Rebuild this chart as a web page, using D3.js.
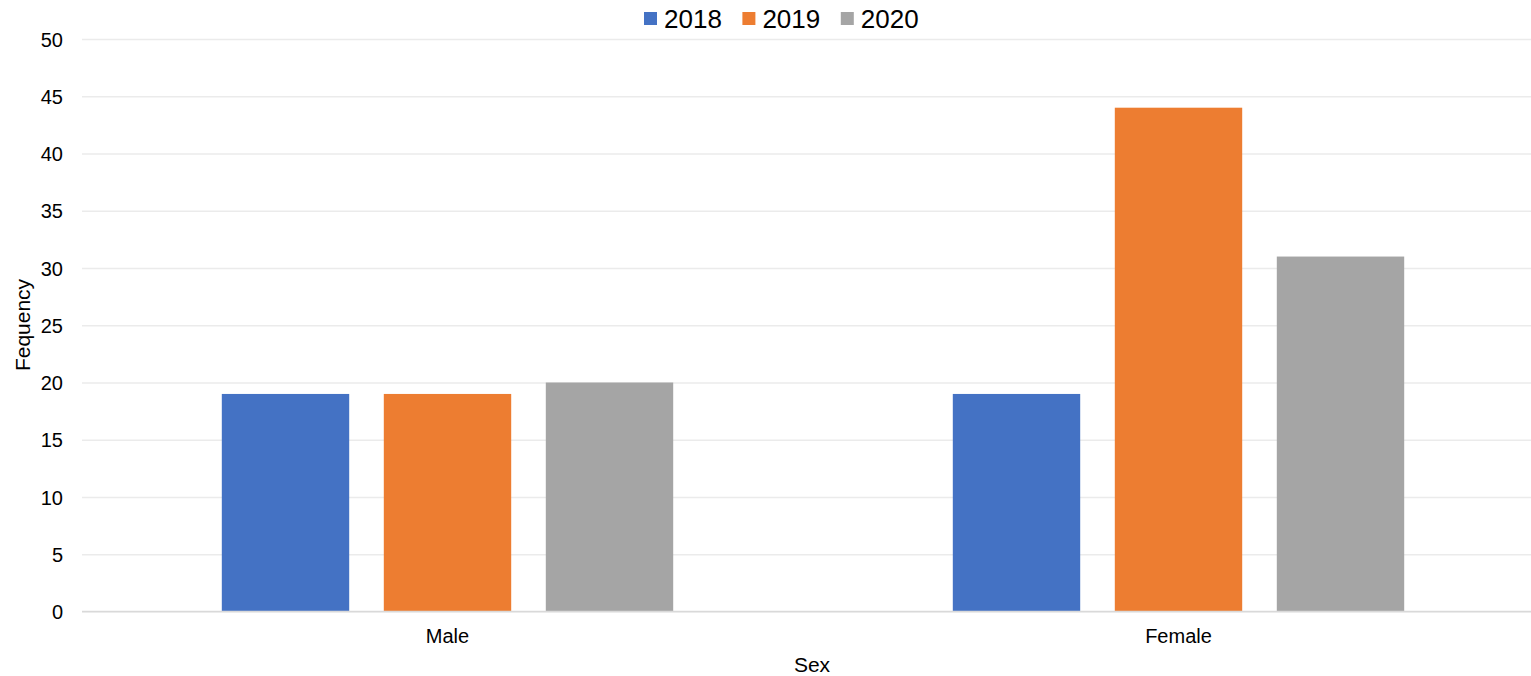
<!DOCTYPE html>
<html lang="en">
<head>
<meta charset="UTF-8">
<title>Sex frequency</title>
<script src="https://cdn.jsdelivr.net/npm/d3@7"></script>
<style>
  body { margin: 0; background: #fff; }
  text { font-family: "Liberation Sans", Arial, sans-serif; fill: #000; }
</style>
</head>
<body>
<div id="output"></div>
<script>

var categories = ["Male", "Female"];
var years = ["2018", "2019", "2020"];
var values2018 = [19, 19];
var values2019 = [19, 44];
var values2020 = [20, 31];
var yTicks = [0, 5, 10, 15, 20, 25, 30, 35, 40, 45, 50];
var colors = ["#4472C4", "#ED7D31", "#A5A5A5"];

var seriesValues = [values2018, values2019, values2020];
var data = categories.map(function(c, i){
    return { cat: c, bars: years.map(function(yr, j){ return { year: yr, value: seriesValues[j][i], color: colors[j] }; }) };
});

var w = 1531, h = 676;
var plotLeft = 82, plotTop = 39, plotBottom = 611.5;
var plotW = 1462;

var svg = d3.select("#output").append("svg")
    .attr("width", w).attr("height", h);

var x0 = d3.scaleBand().domain(categories).range([plotLeft, plotLeft + plotW]);
var x1 = d3.scaleBand().domain(years).range([0, x0.bandwidth()])
    .paddingInner(0.2136).paddingOuter(0.863);
var yScale = d3.scaleLinear().domain([0, 50]).range([plotBottom, plotTop]);

// gridlines + y labels
var yAxis = svg.append("g")
    .attr("transform", "translate(" + plotLeft + ",0)")
    .call(d3.axisLeft(yScale).tickValues(yTicks).tickSize(-(w - plotLeft)).tickPadding(19));
yAxis.select(".domain").remove();
yAxis.selectAll(".tick line").attr("stroke", "#ebebeb").attr("stroke-width", 1.3);
yAxis.selectAll(".tick text").style("font-size", "20px").attr("dy", "0.35em");

// bars
var groups = svg.append("g").selectAll("g")
    .data(data).enter().append("g")
    .attr("transform", function(d){ return "translate(" + x0(d.cat) + ",0)"; });

groups.selectAll("rect")
    .data(function(d){ return d.bars; })
    .enter().append("rect")
    .attr("x", function(d){ return x1(d.year); })
    .attr("y", function(d){ return yScale(d.value); })
    .attr("width", x1.bandwidth())
    .attr("height", function(d){ return yScale(0) - yScale(d.value); })
    .attr("fill", function(d){ return d.color; });

// x axis
var xAxis = svg.append("g")
    .attr("transform", "translate(0," + plotBottom + ")")
    .call(d3.axisBottom(x0).tickSize(0).tickPadding(17));
xAxis.select(".domain").attr("stroke", "#d9d9d9").attr("stroke-width", 1.5)
    .attr("d", "M" + plotLeft + ",0H" + w);
xAxis.selectAll(".tick text").style("font-size", "20px");

// axis titles
svg.append("text")
    .attr("x", 812).attr("y", 672)
    .attr("text-anchor", "middle")
    .style("font-size", "21px")
    .text("Sex");

svg.append("text")
    .attr("transform", "translate(30,325) rotate(-90)")
    .attr("text-anchor", "middle")
    .style("font-size", "21px")
    .text("Fequency");

// legend
var legend = svg.append("g").selectAll("g")
    .data(years).enter().append("g")
    .attr("transform", function(d, i){ return "translate(" + (644 + i * 98.4) + ",0)"; });
legend.append("rect")
    .attr("x", 0).attr("y", 12).attr("width", 13).attr("height", 13)
    .attr("fill", function(d, i){ return colors[i]; });
legend.append("text")
    .attr("x", 20).attr("y", 28)
    .style("font-size", "26px")
    .text(function(d){ return d; });

</script>
</body>
</html>
